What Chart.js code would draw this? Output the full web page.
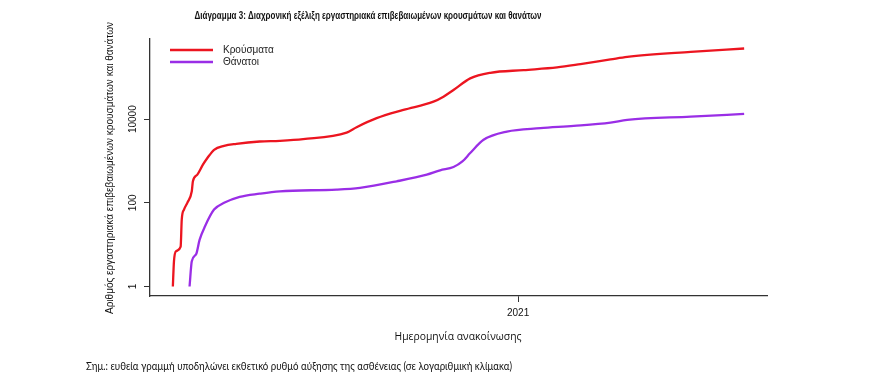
<!DOCTYPE html>
<html><head><meta charset="utf-8">
<script src="https://cdn.jsdelivr.net/npm/chart.js@4/dist/chart.umd.min.js"></script>
<style>html,body{margin:0;padding:0;background:#fff;}#wrap{width:892px;height:385px;}</style>
</head><body><div id="wrap"><canvas id="c" width="892" height="385"></canvas></div>
<script>
// ---- data ----
const caseDates = ['2020-02-26','2020-02-27','2020-02-29','2020-03-04','2020-03-05','2020-03-07','2020-03-10','2020-03-14','2020-03-15','2020-03-19','2020-03-24','2020-03-28','2020-04-03','2020-04-12','2020-04-23','2020-05-14','2020-06-01','2020-06-22','2020-07-31','2020-08-09','2020-08-27','2020-09-20','2020-10-17','2020-10-26','2020-11-04','2020-11-19','2020-12-07','2021-01-06','2021-02-05','2021-02-26','2021-03-25','2021-04-09','2021-06-05','2021-07-23'];
const caseCounts = [1,4,7,9,40,69,100,189,327,472,817,1178,1858,2313,2582,2930,3043,3342,4797,6450,10570,16640,26240,34520,49850,94660,128800,149300,173000,207400,268300,309200,407200,490000];
const deathDates = ['2020-03-12','2020-03-14','2020-03-18','2020-03-21','2020-03-26','2020-04-03','2020-04-12','2020-04-26','2020-05-14','2020-06-01','2020-07-22','2020-08-12','2020-09-14','2020-10-11','2020-10-23','2020-11-04','2020-11-12','2020-11-19','2020-12-01','2020-12-22','2021-01-21','2021-02-20','2021-03-25','2021-04-09','2021-06-05','2021-07-23'];
const deathCounts = [1,4,6,13,28,69,100,139,166,189,207,228,327,472,600,720,978,1550,3214,5070,6105,6924,8300,9620,11530,13370];
const seriesNames = ['Κρούσματα','Θάνατοι'];
const yTickValues = [1,100,10000];
const yTickLabels = ['1','100','10000'];
const xTickDates = ['2021-01-01'];
const xTickLabels = ['2021'];
const titleText = 'Διάγραμμα 3: Διαχρονική εξέλιξη εργαστηριακά επιβεβαιωμένων κρουσμάτων και θανάτων';
const yTitleText = 'Αριθμός εργαστηριακά επιβεβαιωμένων κρουσμάτων και θανάτων';
const xTitleText = 'Ημερομηνία ανακοίνωσης';
const noteText = 'Σημ.: ευθεία γραμμή υποδηλώνει εκθετικό ρυθμό αύξησης της ασθένειας (σε λογαριθμική κλίμακα)';

// ---- helpers ----
const DAY = 86400000;
const ORIGIN = Date.UTC(2020,1,26);
function dayNum(s){const p=s.split('-').map(Number);return (Date.UTC(p[0],p[1]-1,p[2])-ORIGIN)/DAY;}
const casePts = caseDates.map((d,i)=>({x:dayNum(d),y:caseCounts[i]}));
const deathPts = deathDates.map((d,i)=>({x:dayNum(d),y:deathCounts[i]}));
const allX = casePts.concat(deathPts).map(p=>p.x);
const xLo = Math.min(...allX), xHi = Math.max(...allX), xPad = 0.04*(xHi-xLo);
const allY = caseCounts.concat(deathCounts);
const lLo = Math.log10(Math.min(...allY)), lHi = Math.log10(Math.max(...allY)), lPad = 0.04*(lHi-lLo);

const RED = '#ec1520', PURPLE = '#9a2ee6', AXIS = '#333';

function fitText(ctx, text, x, y, font, width, align){
  ctx.save(); ctx.font = font;
  const w = ctx.measureText(text).width;
  const s = width / w;
  ctx.translate(x, y); ctx.scale(s, 1);
  ctx.textAlign = align; ctx.fillText(text, 0, 0);
  ctx.restore();
}

const extras = {
  id: 'extras',
  afterDraw(chart){
    const ctx = chart.ctx, ys = chart.scales.y;
    ctx.save();
    ctx.fillStyle = '#111'; ctx.textBaseline = 'middle';
    // title
    fitText(ctx, titleText, 368, 16, 'bold 11px "Liberation Sans Narrow", "Liberation Sans", sans-serif', 347, 'center');
    // y tick labels (rotated)
    ctx.font = '10px "Liberation Sans", Arial, sans-serif';
    yTickValues.forEach((v,i)=>{
      const py = ys.getPixelForValue(v);
      ctx.save(); ctx.translate(133, py); ctx.rotate(-Math.PI/2);
      ctx.textAlign = 'center'; ctx.fillText(yTickLabels[i], 0, 0); ctx.restore();
    });
    // y title
    ctx.save(); ctx.translate(110, 168); ctx.rotate(-Math.PI/2);
    fitText(ctx, yTitleText, 0, 0, '10px "Liberation Sans", Arial, sans-serif', 292, 'center');
    ctx.restore();
    // x title
    fitText(ctx, xTitleText, 458, 337, '10px "Open Sans", sans-serif', 127, 'center');
    // footnote
    fitText(ctx, noteText, 86, 366, '12px Lato, "Open Sans", sans-serif', 426, 'left');
    // legend
    const cols = [RED, PURPLE];
    seriesNames.forEach((n,i)=>{
      const ly = 50 + i*12;
      ctx.strokeStyle = cols[i]; ctx.lineWidth = 2.5;
      ctx.beginPath(); ctx.moveTo(170, ly); ctx.lineTo(213, ly); ctx.stroke();
      ctx.fillStyle = '#222'; ctx.font = '10px "Liberation Sans", Arial, sans-serif';
      ctx.textAlign = 'left'; ctx.fillText(n, 223, ly);
    });
    ctx.restore();
  }
};

new Chart(document.getElementById('c'), {
  type: 'line',
  data: { datasets: [
    { label: seriesNames[0], data: casePts, borderColor: RED, borderWidth: 2.3, pointRadius: 0, cubicInterpolationMode: 'monotone', fill: false },
    { label: seriesNames[1], data: deathPts, borderColor: PURPLE, borderWidth: 2.3, pointRadius: 0, cubicInterpolationMode: 'monotone', fill: false }
  ]},
  options: {
    responsive: false, animation: false, devicePixelRatio: 1,
    layout: { padding: { left: 0, top: 39, right: 125, bottom: 0 } },
    plugins: { legend: { display: false }, title: { display: false }, tooltip: { enabled: false } },
    scales: {
      x: {
        type: 'linear', min: xLo - xPad, max: xHi + xPad,
        afterFit(s){ s.height = 89; },
        afterBuildTicks(s){ s.ticks = xTickDates.map(d=>({value: dayNum(d)})); },
        ticks: { autoSkip: false, maxRotation: 0, padding: 5, color: '#111',
          font: { family: '"Liberation Sans", Arial, sans-serif', size: 10 },
          callback: (v, i) => xTickLabels[i] },
        grid: { drawOnChartArea: false, drawTicks: true, tickLength: 6, color: AXIS, lineWidth: 1 },
        border: { display: true, color: AXIS, width: 1.3 }
      },
      y: {
        type: 'logarithmic', min: Math.pow(10, lLo - lPad), max: Math.pow(10, lHi + lPad),
        afterFit(s){ s.width = 150; },
        afterBuildTicks(s){ s.ticks = yTickValues.map(v=>({value: v})); },
        ticks: { display: false },
        grid: { drawOnChartArea: false, drawTicks: true, tickLength: 6, color: AXIS, lineWidth: 1 },
        border: { display: true, color: AXIS, width: 1.3 }
      }
    }
  },
  plugins: [extras]
});
</script>
</body></html>
